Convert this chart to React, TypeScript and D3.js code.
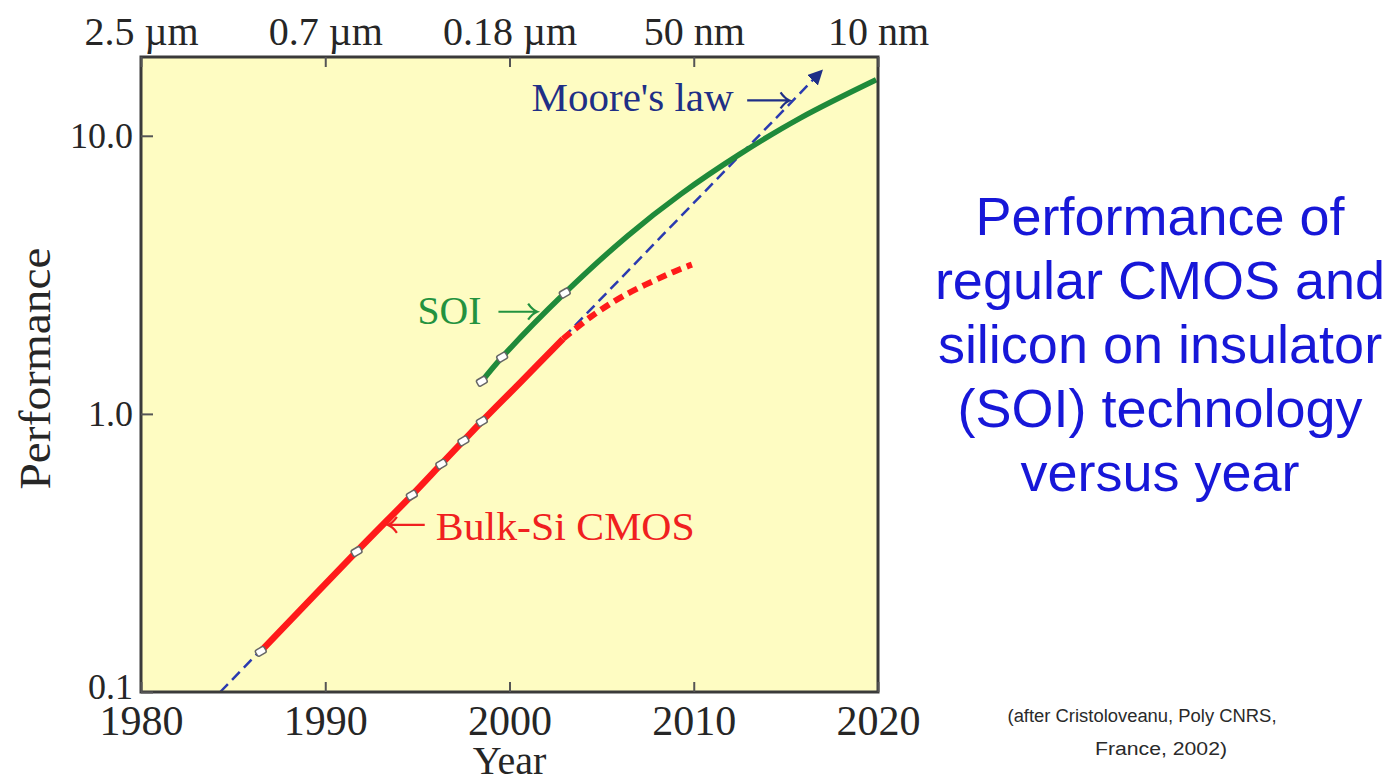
import React, { useEffect, useRef } from 'react'
import * as d3 from 'd3'

// axes
const yearTicks = [1980, 1990, 2000, 2010, 2020]
const featureSizes = ['2.5 µm', '0.7 µm', '0.18 µm', '50 nm', '10 nm']
const perfTicks = [0.1, 1, 10]
const perfTickLabels = ['0.1', '1.0', '10.0']

// bulk-Si CMOS (measured + projected)
const bulkYears = [1986.5, 1991.7, 1994.7, 1996.3, 1997.5, 1998.5, 2000.6, 2002.9]
const bulkPerf = [0.14, 0.32, 0.51, 0.66, 0.8, 0.94, 1.3, 1.86]
const bulkMarkerCount = 6
const bulkProjYears = [2002.9, 2004.4, 2006.2, 2008.9, 2009.9]
const bulkProjPerf = [1.86, 2.23, 2.66, 3.24, 3.44]

// SOI
const soiYears = [1998.5, 1999.6, 2003.0, 2006.4, 2009.3, 2012.5, 2015.8, 2019.9]
const soiPerf = [1.31, 1.6, 2.72, 4.36, 6.17, 8.59, 11.6, 15.9]
const soiMarkerCount = 3

// Moore's law trend
const mooreYears = [1984.3, 2016.9]
const moorePerf = [0.1, 17]

const titleLines = ['Performance of', 'regular CMOS and', 'silicon on insulator', '(SOI) technology', 'versus year']
const creditLines = ['(after Cristoloveanu, Poly CNRS,', 'France, 2002)']

interface Note {
  text: string
  color: string
  year: number
  perf: number
  width: number
  arrowFrom: number
  arrowTo: number
  arrowPerf: number
}

const notes: Note[] = [
  { text: "Moore's law", color: '#1f2f86', year: 2001.2, perf: 12.3, width: 202, arrowFrom: 2012.9, arrowTo: 2015.2, arrowPerf: 13.4 },
  { text: 'SOI', color: '#23923f', year: 1995.0, perf: 2.11, width: 64, arrowFrom: 1999.4, arrowTo: 2001.5, arrowPerf: 2.33 },
  { text: 'Bulk-Si CMOS', color: '#f02020', year: 1996.0, perf: 0.352, width: 259, arrowFrom: 1995.4, arrowTo: 1993.4, arrowPerf: 0.399 },
]

const SERIF = "'Liberation Serif', 'Times New Roman', serif"
const SANS = "'Liberation Sans', Arial, sans-serif"

export default function App() {
  const svgRef = useRef<SVGSVGElement>(null)

  useEffect(() => {
    if (!svgRef.current) return
    const svg = d3.select(svgRef.current)
    svg.selectAll('*').remove()

    const left = 141
    const right = 878
    const top = 57
    const bottom = 692

    const x = d3.scaleLinear().domain([1980, 2020]).range([left, right])
    const y = d3.scaleLog().domain([0.1, 19.2]).range([bottom, top])

    const defs = svg.append('defs')
    defs
      .append('marker')
      .attr('id', 'moore-head')
      .attr('viewBox', '0 0 10 10')
      .attr('refX', 8)
      .attr('refY', 5)
      .attr('markerWidth', 6)
      .attr('markerHeight', 6)
      .attr('markerUnits', 'strokeWidth')
      .attr('orient', 'auto')
      .append('path')
      .attr('d', 'M0,0 L10,5 L0,10 Z')
      .attr('fill', '#1f2f86')

    svg
      .append('rect')
      .attr('x', left)
      .attr('y', top)
      .attr('width', right - left)
      .attr('height', bottom - top)
      .attr('fill', '#fefcc2')

    const line = d3
      .line<[number, number]>()
      .x((d) => x(d[0]))
      .y((d) => y(d[1]))
      .curve(d3.curveCatmullRom.alpha(0.5))

    const zip = (a: number[], b: number[]) => a.map((v, i) => [v, b[i]] as [number, number])

    // Moore's law dashed trend
    svg
      .append('path')
      .attr('d', line(zip(mooreYears, moorePerf)))
      .attr('fill', 'none')
      .attr('stroke', '#2a3ab0')
      .attr('stroke-width', 2.5)
      .attr('stroke-dasharray', '11,6')
      .attr('marker-end', 'url(#moore-head)')

    // projected bulk
    svg
      .append('path')
      .attr('d', line(zip(bulkProjYears, bulkProjPerf)))
      .attr('fill', 'none')
      .attr('stroke', '#ff1a1a')
      .attr('stroke-width', 6)
      .attr('stroke-dasharray', '10,6')

    svg
      .append('path')
      .attr('d', line(zip(bulkYears, bulkPerf)))
      .attr('fill', 'none')
      .attr('stroke', '#ff1a1a')
      .attr('stroke-width', 6.5)

    svg
      .append('path')
      .attr('d', line(zip(soiYears, soiPerf)))
      .attr('fill', 'none')
      .attr('stroke', '#1f8a3a')
      .attr('stroke-width', 5.5)

    const markerPts = [
      ...zip(bulkYears, bulkPerf).slice(0, bulkMarkerCount),
      ...zip(soiYears, soiPerf).slice(0, soiMarkerCount),
    ]
    svg
      .append('g')
      .selectAll('rect')
      .data(markerPts)
      .join('rect')
      .attr('x', -5)
      .attr('y', -3.5)
      .attr('width', 10)
      .attr('height', 7)
      .attr('rx', 2)
      .attr('transform', (d) => `translate(${x(d[0])},${y(d[1])}) rotate(-30)`)
      .attr('fill', '#ffffff')
      .attr('stroke', '#666')
      .attr('stroke-width', 1.5)

    // frame
    svg
      .append('rect')
      .attr('x', left)
      .attr('y', top)
      .attr('width', right - left)
      .attr('height', bottom - top)
      .attr('fill', 'none')
      .attr('stroke', '#3a3a3a')
      .attr('stroke-width', 3)

    const styleAxis = (g: d3.Selection<SVGGElement, unknown, null, undefined>, size: number) => {
      g.select('.domain').remove()
      g.selectAll('.tick line').attr('stroke', '#555').attr('stroke-width', 2)
      g.selectAll('.tick text')
        .style('font-family', SERIF)
        .style('font-size', `${size}px`)
        .attr('fill', '#262626')
    }

    const gBottom = svg
      .append('g')
      .attr('transform', `translate(0,${bottom})`)
      .call(
        d3.axisBottom(x).tickValues(yearTicks).tickFormat(d3.format('d')).tickSize(-10).tickPadding(13)
      )
    styleAxis(gBottom, 42)

    const gTop = svg
      .append('g')
      .attr('transform', `translate(0,${top})`)
      .call(
        d3
          .axisTop(x)
          .tickValues(yearTicks)
          .tickFormat((d, i) => featureSizes[i])
          .tickSize(-10)
          .tickPadding(12)
      )
    styleAxis(gTop, 40)

    const gLeft = svg
      .append('g')
      .attr('transform', `translate(${left},0)`)
      .call(
        d3
          .axisLeft(y)
          .tickValues(perfTicks)
          .tickFormat((d, i) => perfTickLabels[i])
          .tickSize(-12)
          .tickPadding(8)
      )
    styleAxis(gLeft, 36)
    gLeft.selectAll('.tick text').attr('dy', (d) => (d === 0.1 ? '0.18em' : '0.32em'))

    svg
      .append('text')
      .attr('x', x(2000))
      .attr('y', 774)
      .attr('text-anchor', 'middle')
      .style('font-family', SERIF)
      .style('font-size', '40px')
      .attr('fill', '#262626')
      .text('Year')

    svg
      .append('text')
      .attr('transform', `translate(50,${(top + bottom) / 2 - 6}) rotate(-90)`)
      .attr('text-anchor', 'middle')
      .style('font-family', SERIF)
      .style('font-size', '44px')
      .attr('textLength', 242)
      .attr('lengthAdjust', 'spacingAndGlyphs')
      .attr('fill', '#262626')
      .text('Performance')

    // annotations
    notes.forEach((n) => {
      svg
        .append('text')
        .attr('x', x(n.year))
        .attr('y', y(n.perf))
        .style('font-family', SERIF)
        .style('font-size', '39px')
        .attr('textLength', n.width)
        .attr('lengthAdjust', 'spacingAndGlyphs')
        .attr('fill', n.color)
        .text(n.text)

      const x0 = x(n.arrowFrom)
      const x1 = x(n.arrowTo)
      const ay = y(n.arrowPerf)
      const dir = Math.sign(x1 - x0)
      svg
        .append('path')
        .attr(
          'd',
          `M${x0},${ay} L${x1},${ay} M${x1 - dir * 9},${ay - 8} Q${x1 - dir * 5},${ay - 2} ${x1},${ay} Q${x1 - dir * 5},${ay + 2} ${x1 - dir * 9},${ay + 8}`
        )
        .attr('fill', 'none')
        .attr('stroke', n.color)
        .attr('stroke-width', 2.2)
    })

    // right-hand title
    const title = svg
      .append('text')
      .attr('text-anchor', 'middle')
      .style('font-family', SANS)
      .style('font-size', '54px')
      .attr('fill', '#1717d8')
    title
      .selectAll('tspan')
      .data(titleLines)
      .join('tspan')
      .attr('x', 1160)
      .attr('y', (d, i) => 235 + i * 64)
      .text((d) => d)

    const creditWidths = [269, 132]
    const creditX = [1142, 1161]
    svg
      .append('g')
      .selectAll('text')
      .data(creditLines)
      .join('text')
      .attr('x', (d, i) => creditX[i])
      .attr('y', (d, i) => 722 + i * 33)
      .attr('text-anchor', 'middle')
      .attr('textLength', (d, i) => creditWidths[i])
      .attr('lengthAdjust', 'spacingAndGlyphs')
      .style('font-family', SANS)
      .style('font-size', '18px')
      .attr('fill', '#2a2a2a')
      .text((d) => d)
  }, [])

  return (
    <svg
      ref={svgRef}
      width={1392}
      height={781}
      style={{ position: 'absolute', left: 0, top: 0, background: '#ffffff' }}
    />
  )
}
